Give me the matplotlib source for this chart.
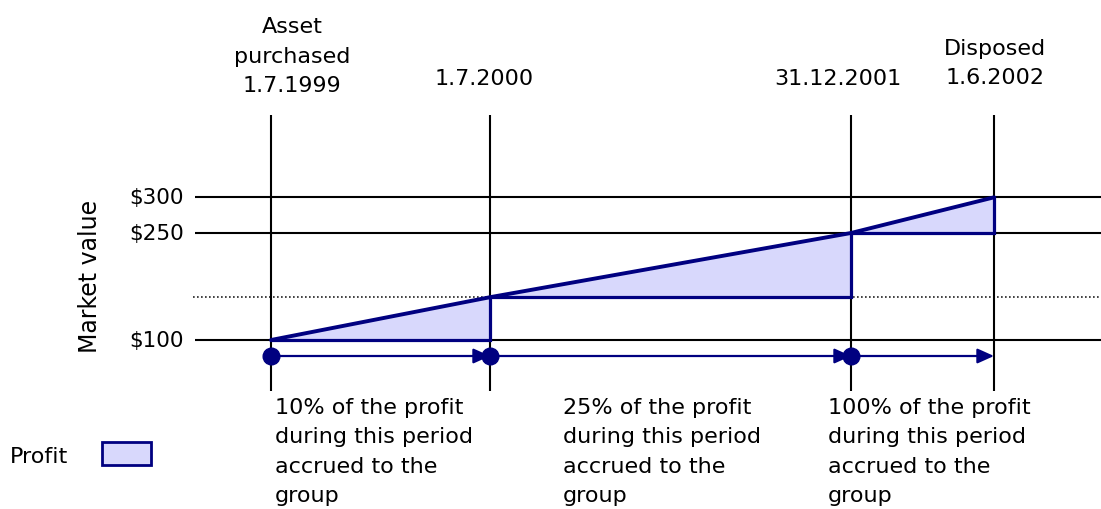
import matplotlib
matplotlib.use("Agg")
import matplotlib.pyplot as plt
from matplotlib.patches import Polygon, Rectangle

# ---- data ----
date_labels = ["Asset\npurchased\n1.7.1999", "1.7.2000", "31.12.2001", "Disposed\n1.6.2002"]
market_values = [100, 160, 250, 300]          # market value at each date
tick_values = [100, 250, 300]
tick_labels = ["$100", "$250", "$300"]
period_texts = [
    "10% of the profit\nduring this period\naccrued to the\ngroup",
    "25% of the profit\nduring this period\naccrued to the\ngroup",
    "100% of the profit\nduring this period\naccrued to the\ngroup",
]
y_label = "Market value"
legend_label = "Profit"

# ---- layout (pixel positions of the date columns) ----
W, H = 1101, 510
x_pos = [271, 490, 851, 994]
px_per_unit = (341 - 234) / 150.0
y100_px = 341


def v2px(v):
    return y100_px - (v - 100) * px_per_unit


def px2v(p):
    return 100 + (y100_px - p) / px_per_unit


NAVY = "#000080"
FILL = "#d8d8fc"
FONT = "DejaVu Sans"
plt.rcParams["font.family"] = [FONT]

fig = plt.figure(figsize=(W / 100, H / 100), dpi=100)
ax = fig.add_axes([0, 0, 1, 1])
ax.set_xlim(0, W)
ax.set_ylim(px2v(H), px2v(0))
ax.axis("off")

ov = fig.add_axes([0, 0, 1, 1], zorder=5)
ov.set_xlim(0, W)
ov.set_ylim(H, 0)
ov.axis("off")
ov.patch.set_alpha(0)

# grid lines
for v in tick_values:
    ax.plot([195, W], [v, v], color="black", lw=1.5, zorder=1, solid_capstyle="butt")
ax.plot([193, W], [market_values[1]] * 2, color="#222222", lw=1.2,
        linestyle=(0, (1, 1.4)), zorder=1)
for x in x_pos:
    ax.plot([x, x], [px2v(392), px2v(116)], color="black", lw=1.5, zorder=1,
            solid_capstyle="butt")

# profit triangles
for i in range(3):
    x0, x1 = x_pos[i], x_pos[i + 1]
    v0, v1 = market_values[i], market_values[i + 1]
    ax.add_patch(Polygon([[x0, v0], [x1, v1], [x1, v0]], closed=True,
                         facecolor=FILL, edgecolor="none", zorder=2))
    ax.plot([x0, x1, x1], [v0, v0, v1], color=NAVY, lw=2.3, zorder=3,
            solid_joinstyle="miter")
ax.plot(x_pos, market_values, color=NAVY, lw=2.8, zorder=4, solid_capstyle="round")

# period arrows
arrow_y = px2v(357)
for i in range(3):
    x0, x1 = x_pos[i], x_pos[i + 1]
    ax.annotate("", xy=(x1, arrow_y), xytext=(x0, arrow_y),
                arrowprops=dict(arrowstyle="-|>,head_length=1.0,head_width=0.45",
                                color=NAVY, lw=1.6, shrinkA=0, shrinkB=0),
                zorder=5)
    ax.plot([x0], [arrow_y], "o", color=NAVY, ms=12, zorder=6)

# y tick labels and axis label
for v, lab in zip(tick_values, tick_labels):
    ov.text(184, v2px(v), lab, ha="right", va="center", fontsize=15.5, color="black")
ov.text(90, 276, y_label, rotation=90, ha="center", va="center", fontsize=17)

# top date labels
label_cx = [292, 484, 838, 995]
label_bottom = [96, 89, 89, 88]
for cx, by, lab in zip(label_cx, label_bottom, date_labels):
    ov.text(cx, by, lab, ha="center", va="bottom", fontsize=16,
            linespacing=1.58, multialignment="center")

# bottom period texts
text_x = [275, 563, 828]
for tx, t in zip(text_x, period_texts):
    ov.text(tx, 398, t, ha="left", va="top", fontsize=16, linespacing=1.58)

# legend
ov.text(10, 457, legend_label, ha="left", va="center", fontsize=16)
ov.add_patch(Rectangle((102, 443), 49, 23, facecolor=FILL, edgecolor=NAVY, lw=2))

fig.savefig("out.png", dpi=100)
